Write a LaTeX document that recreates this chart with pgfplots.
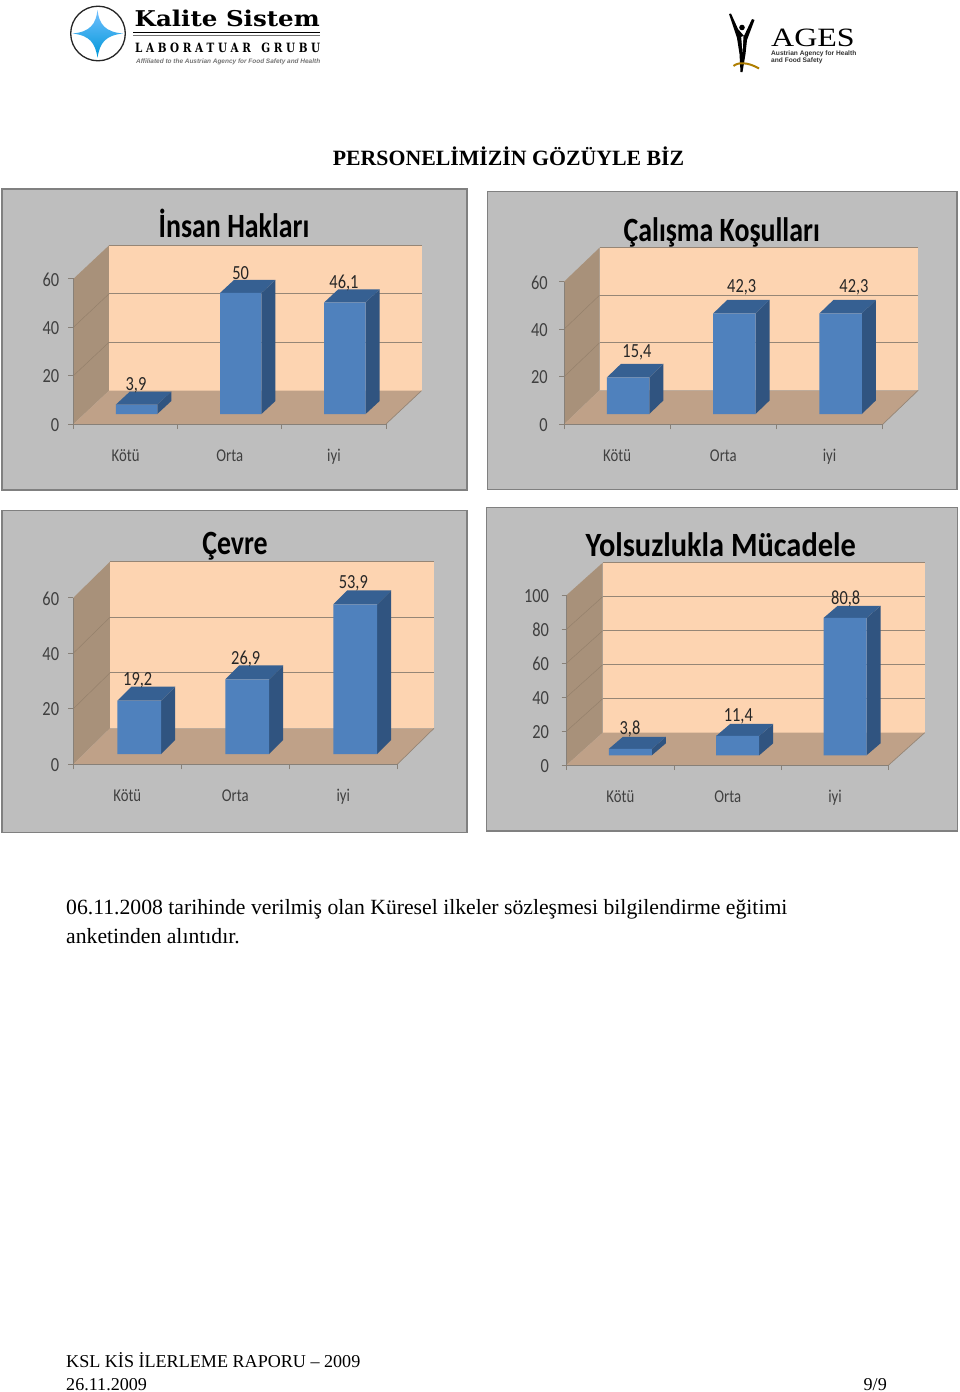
\documentclass[border=0pt]{standalone}
\usepackage{fontspec}
\usepackage{pgfplots}
\pgfplotsset{compat=1.18}
\setmainfont{Liberation Serif}
\newfontfamily\cf[FakeStretch=0.82]{Carlito}
\newfontfamily\tf[FakeStretch=0.82]{Carlito}
\newfontfamily\lsf{Liberation Sans}
\newfontfamily\djs{DejaVu Serif}
\definecolor{pbg}{RGB}{190,190,190}
\definecolor{pborder}{RGB}{128,128,128}
\definecolor{wall}{RGB}{253,212,177}
\definecolor{swall}{RGB}{168,145,122}
\definecolor{floorc}{RGB}{191,161,136}
\definecolor{gridc}{RGB}{150,134,118}
\definecolor{axc}{RGB}{135,128,120}
\definecolor{bfront}{RGB}{79,129,189}
\definecolor{bside}{RGB}{48,84,128}
\definecolor{btop}{RGB}{54,96,146}
\pgfplotsset{
 pframe/.style={anchor=south west, scale only axis, clip=false, axis on top,
  xmin=0,xmax=3,ymin=0, axis lines=left, axis line style={-,axc,line width=1pt},
  tick style={axc,line width=0.9pt}, tick align=outside, major tick length=5pt,
  no markers, xtick={0,1,2,3}, x tick label as interval, xticklabels={Kötü,Orta,iyi},
  xticklabel style={font=\cf\fontsize{18}{18}\selectfont, text=black!75, anchor=base, inner sep=0pt, yshift=-32pt},
  yticklabel style={font=\cf\fontsize{20}{20}\selectfont, text=black!75, inner sep=0pt, yshift=-0.8pt},
  /pgf/number format/assume math mode=true},
 pbar/.style={anchor=south west, scale only axis, clip=false, hide axis,
  xmin=0,xmax=3,ymin=0, no markers}
}
\newcommand{\gl}[1]{\pgfmathsetmacro\gv{#1+\Dy}
 \addplot[gridc,line width=1pt] coordinates {(\Dx,\gv)(\Tx,\gv)};
 \addplot[swall!88!black,line width=0.5pt] coordinates {(0,#1)(\Dx,\gv)};}
\newcommand{\faces}[2]{\pgfmathsetmacro\xa{#1-\hwu}\pgfmathsetmacro\xb{#1+\hwu}
 \pgfmathsetmacro\xc{#1+\hwu+\bdxu}\pgfmathsetmacro\xd{#1-\hwu+\bdxu}
 \pgfmathsetmacro\yb{#2+\bdyu}\pgfmathsetmacro\yc{\bdyu}
 \addplot[fill=bside,draw=none] coordinates {(\xb,0)(\xc,\yc)(\xc,\yb)(\xb,#2)} --cycle;
 \addplot[fill=btop,draw=none] coordinates {(\xa,#2)(\xb,#2)(\xc,\yb)(\xd,\yb)} --cycle;}
\newcommand{\panel}{%
 \pgfmathsetmacro\Wd{\xo-\xz}\pgfmathsetmacro\Hh{\yz-\yt}\pgfmathsetmacro\ux{\Wd/3}\pgfmathsetmacro\uy{\Hh/\ym}%
 \pgfmathsetmacro\Dx{\bdx/\ux}\pgfmathsetmacro\Dy{\bdy/\uy}\pgfmathsetmacro\Tx{3+\Dx}\pgfmathsetmacro\Ty{\ym+\Dy}%
 \pgfmathsetmacro\Fx{\xz+\bsx}\pgfmathsetmacro\Ay{-\yz}\pgfmathsetmacro\By{-\base}%
 \pgfmathsetmacro\hwu{\hw/\ux}\pgfmathsetmacro\bdxu{\dbx/\ux}\pgfmathsetmacro\bdyu{\dby/\uy}\pgfmathsetmacro\BW{2*\hw}%
 \begin{axis}[pframe, at={(\xz pt,\Ay pt)}, width=\Wd pt, height=\Hh pt, ymax=\ym, ytick/.expanded=\ytk, yticklabel style={xshift=\ylx pt}]
  \addplot[fill=swall,draw=none] coordinates {(0,0)(0,\ym)(\Dx,\Ty)(\Dx,\Dy)} --cycle;
  \addplot[fill=wall,draw=none] coordinates {(\Dx,\Dy)(\Dx,\Ty)(\Tx,\Ty)(\Tx,\Dy)} --cycle;
  \addplot[fill=floorc,draw=none] coordinates {(0,0)(3,0)(\Tx,\Dy)(\Dx,\Dy)} --cycle;
  \gls
  \addplot[gridc,line width=1pt] coordinates {(\Dx,\Ty)(\Tx,\Ty)};
  \addplot[gridc,line width=0.7pt] coordinates {(3,0)(\Tx,\Dy)};
 \end{axis}
 \begin{axis}[pbar, at={(\Fx pt,\By pt)}, width=\Wd pt, height=\Hh pt, ymax=\ym]
  \faces{0.5}{\va}\faces{1.5}{\vb}\faces{2.5}{\vc}
  \addplot[ybar, bar width=\BW pt, bar shift=0pt, fill=bfront, draw=none] coordinates {(0.5,\va)(1.5,\vb)(2.5,\vc)};
 \end{axis}
}
\newcommand{\lab}[3]{\node[font=\cf\fontsize{20}{20}\selectfont,text=black!85,inner sep=0pt] at (#1,#2) {#3};}
\newcommand{\ttl}[4]{\node[font=\tf\bfseries\fontsize{34}{34}\selectfont,inner sep=0pt,anchor=base,xscale=#4,transform shape] at (#1,#2) {#3};}
\begin{document}
\begin{tikzpicture}[x=1pt,y=-1pt]
\useasboundingbox (0,0) rectangle (960,1392);
\fill[white] (0,0) rectangle (960,1392);
% --- logos
\draw[black!85,line width=1.3pt] (98,33.5) circle (27.3);
\shade[top color=cyan!55!blue!55,bottom color=cyan!70!blue!85!black]
 (97.5,10) .. controls (99,24) and (105,32) .. (123,33.5) .. controls (105,35.5) and (100,43) .. (97.5,57.5)
 .. controls (95,43) and (90,35.5) .. (72.5,33.5) .. controls (90,32) and (96,24) .. (97.5,10) -- cycle;
\node[inner sep=0pt,anchor=base west] at (134.5,27) {\resizebox{185pt}{16.5pt}{\djs\bfseries Kalite\hspace{0.35em}Sistem}};
\draw[black,line width=1.3pt] (133,32.3) -- (320,32.3);
\draw[black!55,line width=0.7pt] (133,35.8) -- (320,35.8);
\node[inner sep=0pt,anchor=base west] at (135,52) {\resizebox{185pt}{9.5pt}{\djs\bfseries L A B O R A T U A R\hspace{1em}G R U B U}};
\node[inner sep=0pt,anchor=base west,text=black!55] at (136,63.5) {\resizebox{184pt}{!}{\lsf\itshape\bfseries\fontsize{6}{6}\selectfont Affiliated to the Austrian Agency for Food Safety and Health}};
\fill[black] (729,14) -- (731,13.5) -- (738,29) -- (744,36) -- (752,19) -- (754.5,20) -- (747,40)
 -- (745.5,54) -- (742.5,72) -- (740.5,72) -- (739.5,54) -- (737,38) -- cycle;
\fill[white] (741.2,37) -- (743.5,36) -- (742.5,52) -- cycle;
\fill[black] (742,27.5) circle (2.8);
\draw[black!45!orange!70!yellow,line width=2pt] (733.5,66) .. controls (738,62) and (748,62) .. (759,68.5);
\node[inner sep=0pt,anchor=base west] at (771,46) {\resizebox{83.5pt}{17.5pt}{AGES}};
\node[inner sep=0pt,anchor=base west,font=\lsf\bfseries\fontsize{6.6}{6.6}\selectfont,text=black!80] at (771,55) {Austrian Agency for Health};
\node[inner sep=0pt,anchor=base west,font=\lsf\bfseries\fontsize{6.6}{6.6}\selectfont,text=black!80] at (771,62) {and Food Safety};
% --- page text
\node[inner sep=0pt,anchor=base,font=\bfseries\fontsize{21.8}{21.8}\selectfont] at (508.5,165) {PERSONELİMİZİN GÖZÜYLE BİZ};
\node[inner sep=0pt,anchor=base west,font=\fontsize{21.7}{21.7}\selectfont] at (66,914.5) {06.11.2008 tarihinde verilmiş olan Küresel ilkeler sözleşmesi bilgilendirme eğitimi};
\node[inner sep=0pt,anchor=base west,font=\fontsize{21.7}{21.7}\selectfont] at (66,943.5) {anketinden alıntıdır.};
\node[inner sep=0pt,anchor=base west,font=\fontsize{18.1}{18.1}\selectfont] at (66,1367.5) {KSL KİS İLERLEME RAPORU -- 2009};
\node[inner sep=0pt,anchor=base west,font=\fontsize{18.1}{18.1}\selectfont] at (66,1390.5) {26.11.2009};
\node[inner sep=0pt,anchor=base east,font=\fontsize{18.1}{18.1}\selectfont] at (887,1390.5) {9/9};
% --- panel backgrounds
\filldraw[fill=pbg,draw=pborder,line width=1.2pt] (2,189) rectangle (467,490);
\filldraw[fill=pbg,draw=pborder,line width=1.2pt] (487.5,191.5) rectangle (957,489.5);
\filldraw[fill=pbg,draw=pborder,line width=1.2pt] (2,510.5) rectangle (467,832.5);
\filldraw[fill=pbg,draw=pborder,line width=1.2pt] (486.5,507.5) rectangle (957.5,831);
% --- Insan Haklari
\def\xz{73.5}\def\xo{386}\def\yz{424}\def\yt{278.7}\def\ym{60}\def\bdx{35.5}\def\bdy{33.3}\def\ylx{-9}
\def\bsx{11}\def\base{414}\def\hw{20.7}\def\dbx{14}\def\dby{13}\def\ytk{0,20,40,60}
\def\gls{\gl{20}\gl{40}}\def\va{3.9}\def\vb{50}\def\vc{46.1}
\panel
\ttl{234}{237}{İnsan Hakları}{1}
\lab{136}{385.7}{3,9}\lab{240.7}{273}{50}\lab{344}{282.7}{46,1}
% --- Calisma Kosullari
\def\xz{564}\def\xo{882.7}\def\yz{424.3}\def\yt{281.7}\def\ym{60}\def\bdx{35.5}\def\bdy{34}\def\ylx{-11}
\def\bsx{11}\def\base{414}\def\hw{21.2}\def\dbx{14}\def\dby{13.5}\def\ytk{0,20,40,60}
\def\gls{\gl{20}\gl{40}}\def\va{15.4}\def\vb{42.3}\def\vc{42.3}
\panel
\ttl{721.7}{241}{Çalışma Koşulları}{1}
\lab{637}{352.3}{15,4}\lab{741.7}{287.3}{42,3}\lab{854}{287.3}{42,3}
% --- Cevre
\def\xz{73.3}\def\xo{397.3}\def\yz{764.3}\def\yt{597.7}\def\ym{60}\def\bdx{36.7}\def\bdy{36}\def\ylx{-9}
\def\bsx{12}\def\base{754}\def\hw{21.9}\def\dbx{14}\def\dby{14}\def\ytk{0,20,40,60}
\def\gls{\gl{20}\gl{40}}\def\va{19.2}\def\vb{26.9}\def\vc{53.9}
\panel
\ttl{235}{554}{Çevre}{1}
\lab{137.7}{680}{19,2}\lab{245.7}{658.7}{26,9}\lab{353.3}{583.3}{53,9}
% --- Yolsuzlukla Mucadele
\def\xz{566.7}\def\xo{888.7}\def\yz{765}\def\yt{595}\def\ym{100}\def\bdx{36}\def\bdy{32.3}\def\ylx{-12.5}
\def\bsx{10}\def\base{755.3}\def\hw{21.5}\def\dbx{14}\def\dby{12}\def\ytk{0,20,40,60,80,100}
\def\gls{\gl{20}\gl{40}\gl{60}\gl{80}}\def\va{3.8}\def\vb{11.4}\def\vc{80.8}
\panel
\ttl{720.7}{556}{Yolsuzlukla Mücadele}{1.09}
\lab{630}{729}{3,8}\lab{738.3}{716}{11,4}\lab{845.7}{599.3}{80,8}
\end{tikzpicture}
\end{document}
